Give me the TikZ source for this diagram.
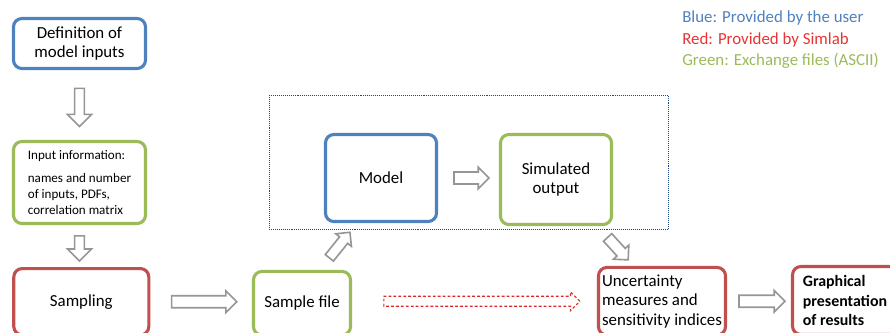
\documentclass[tikz,border=0pt]{standalone}
\usepackage{fontspec}
\setmainfont{Carlito}
\usetikzlibrary{shapes.arrows, calc}
\definecolor{myblue}{RGB}{79,129,189}
\definecolor{myred}{RGB}{192,80,77}
\definecolor{mygreen}{RGB}{155,187,89}
\definecolor{legred}{RGB}{232,52,52}
\definecolor{arrowgray}{RGB}{150,150,150}
\definecolor{framenavy}{RGB}{31,73,125}
\definecolor{dashred}{RGB}{220,40,40}
\tikzset{
  box/.style={rectangle, rounded corners=6pt, line width=2.2pt, fill=white,
    font=\fontsize{12}{14}\selectfont, inner sep=2pt},
  userbox/.style={box, draw=myblue},
  simbox/.style={box, draw=myred},
  filebox/.style={box, draw=mygreen},
  blockarrow/.style={single arrow, draw=arrowgray, fill=white, line width=1.15pt,
    inner sep=0pt, minimum width=0pt, single arrow head extend=0.12cm,
    inner ysep=0.13cm, sloped, allow upside down, midway},
  dasharrow/.style={blockarrow, draw=dashred, line width=0.8pt,
    dash pattern=on 2pt off 1.5pt}
}

\begin{document}
\begin{tikzpicture}[x=0.025cm, y=-0.025cm]
  \path[use as bounding box, clip] (0,0) rectangle (890,332);

  % Legend
  \node[anchor=north west, align=left, inner sep=0pt,
    font=\fontsize{12}{15.3}\selectfont] (legend) at (682,10.5)
    {\textcolor{myblue}{Blue: Provided by the user}\\
     \textcolor{legred}{Red: Provided by Simlab}\\
     \textcolor{mygreen}{Green: Exchange files (ASCII)}};

  % Dotted frame round model and output
  \draw[framenavy, line width=0.7pt, dash pattern=on 0.7pt off 0.7pt]
    (269,95) rectangle (668,229);

  % Left column
  \node[userbox, minimum width=3.3cm, minimum height=1.25cm, align=center]
    (def) at (79.5,43.5) {Definition of\\model inputs};
  \node[filebox, minimum width=3.3cm, minimum height=2.05cm, align=left,
    font=\fontsize{9.3}{11.4}\selectfont] (info) at (79.5,182.5)
    {Input information:\\[5pt] names and number\\of inputs, PDFs,\\correlation matrix};
  \node[simbox, minimum width=3.375cm, minimum height=1.66cm]
    (sampling) at (81.3,301.75) {Sampling};

  % Bottom row
  \node[filebox, minimum width=2.425cm, minimum height=1.59cm]
    (samp) at (302,303.25) {Sample file};
  \node[simbox, minimum width=3.175cm, minimum height=1.69cm, align=left]
    (unc) at (662,301.25) {Uncertainty\\measures and\\sensitivity indices};
  \node[simbox, minimum width=2.625cm, minimum height=1.7cm, align=left,
    font=\fontsize{11.3}{14}\selectfont\bfseries]
    (graph) at (845,300.5) {Graphical\\presentation\\of results};

  % Model and output
  \node[userbox, minimum width=2.775cm, minimum height=2.175cm]
    (model) at (381,178) {Model};
  \node[filebox, minimum width=2.775cm, minimum height=2.25cm, align=center]
    (simout) at (556,179.5) {Simulated\\output};

  % Block arrows
  \path (def) -- (info) node[blockarrow, minimum height=0.95cm,
    inner ysep=0.1cm, single arrow head extend=0.18cm] (ar1) {};
  \path (info.south -| def) -- (sampling.north -| def) node[blockarrow,
    minimum height=0.63cm, inner ysep=0.1cm, single arrow head extend=0.18cm] (ar2) {};
  \path (sampling.east) -- (sampling.east -| samp.west)
    node[blockarrow, minimum height=1.625cm] (ar3) {};
  \path ([xshift=0.65cm, yshift=0.26cm]samp.north)
    -- ([xshift=-0.825cm, yshift=-0.29cm]model.south)
    node[blockarrow, minimum height=0.82cm, inner ysep=0.11cm] (ar4) {};
  \path (model.east) -- (model.east -| simout.west)
    node[blockarrow, minimum height=0.875cm] (ar5) {};
  \path ([xshift=1.25cm, yshift=-0.24cm]simout.south)
    -- ([xshift=-0.9cm, yshift=0.21cm]unc.north)
    node[blockarrow, minimum height=0.76cm, inner ysep=0.12cm] (ar6) {};
  \path (unc.east) -- (unc.east -| graph.west)
    node[blockarrow, minimum height=1.15cm] (ar7) {};

  % Dashed arrow from sample file to results
  \path ([yshift=0.05cm]samp.east) -- ([yshift=0.05cm]samp.east -| unc.west)
    node[dasharrow, pos=0.52, minimum height=4.9cm, inner ysep=0.11cm,
    single arrow head extend=0.11cm] (ar8) {};
\end{tikzpicture}
\end{document}
